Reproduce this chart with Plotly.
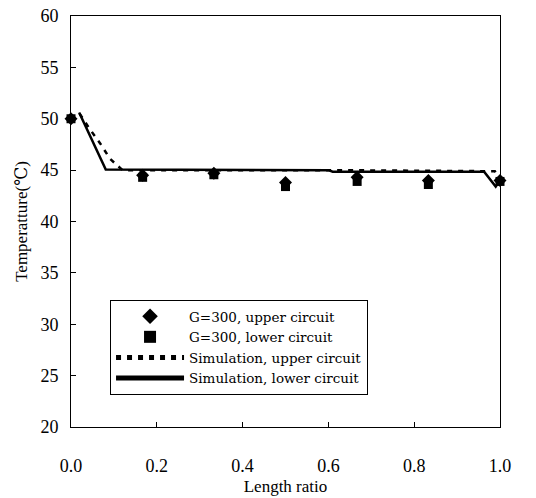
import plotly.graph_objects as go

x_exp = [0.0, 0.167, 0.333, 0.5, 0.667, 0.833, 1.0]
upper_exp = [50.0, 44.5, 44.7, 43.8, 44.3, 44.0, 44.0]
lower_exp = [50.0, 44.3, 44.55, 43.4, 43.9, 43.6, 43.9]

x_sim_upper = [0.02, 0.042, 0.068, 0.091, 0.12, 0.6, 0.96, 0.988, 1.0]
sim_upper = [50.5, 49.1, 47.6, 46.1, 45.0, 45.0, 44.9, 44.9, 44.2]

x_sim_lower = [0.019, 0.081, 0.6, 0.61, 0.963, 0.99, 1.0]
sim_lower = [50.6, 45.05, 45.0, 44.85, 44.85, 43.4, 44.0]

xticks = [0.0, 0.2, 0.4, 0.6, 0.8, 1.0]
yticks = [20, 25, 30, 35, 40, 45, 50, 55, 60]

font = "Times New Roman, Liberation Serif, DejaVu Serif, serif"
legend_font = "DejaVu Serif, Liberation Serif, serif"

fig = go.Figure()
fig.add_trace(go.Scatter(x=x_exp, y=upper_exp, mode="markers", name="G=300, upper circuit",
                         cliponaxis=False,
                         marker=dict(symbol="diamond", size=10, color="black")))
fig.add_trace(go.Scatter(x=x_exp, y=lower_exp, mode="markers", name="G=300, lower circuit",
                         cliponaxis=False,
                         marker=dict(symbol="square", size=9, color="black")))
fig.add_trace(go.Scatter(x=x_sim_upper, y=sim_upper, mode="lines", name="Simulation, upper circuit",
                         line=dict(color="black", width=2.5, dash="5px,6px")))
fig.add_trace(go.Scatter(x=x_sim_lower, y=sim_lower, mode="lines", name="Simulation, lower circuit",
                         line=dict(color="black", width=2.5)))

fig.update_layout(
    width=536, height=498,
    margin=dict(l=71, r=36, t=16, b=71),
    paper_bgcolor="white", plot_bgcolor="white",
    font=dict(family=font, size=15, color="black"),
    showlegend=True,
    legend=dict(x=0.091, y=0.309, xanchor="left", yanchor="top",
                bordercolor="black", borderwidth=1, bgcolor="white",
                font=dict(family=legend_font, size=13.5), itemwidth=68,
                tracegroupgap=0, itemsizing="constant"),
)
fig.update_xaxes(range=[0, 1.0], tickvals=xticks, ticktext=[f"{v:.1f}" for v in xticks],
                 showgrid=False, zeroline=False, showline=True, linecolor="black", linewidth=1,
                 mirror=True, ticks="inside", ticklen=5, tickcolor="black",
                 ticklabelstandoff=22, automargin=False,
                 title=dict(text="Length ratio", font=dict(family=font, size=17), standoff=5),
                 tickfont=dict(family=font, size=18))
fig.update_yaxes(range=[20, 60], tickvals=yticks,
                 showgrid=False, zeroline=False, showline=True, linecolor="black", linewidth=1,
                 mirror=True, ticks="inside", ticklen=5, tickcolor="black",
                 ticklabelstandoff=8, automargin=False,
                 title=dict(text="Temperatture(℃)", font=dict(family=font, size=17), standoff=8),
                 tickfont=dict(family=font, size=18))

fig.write_html("out.html", config={"displayModeBar": False},
               post_script="document.body.style.margin='0';")
